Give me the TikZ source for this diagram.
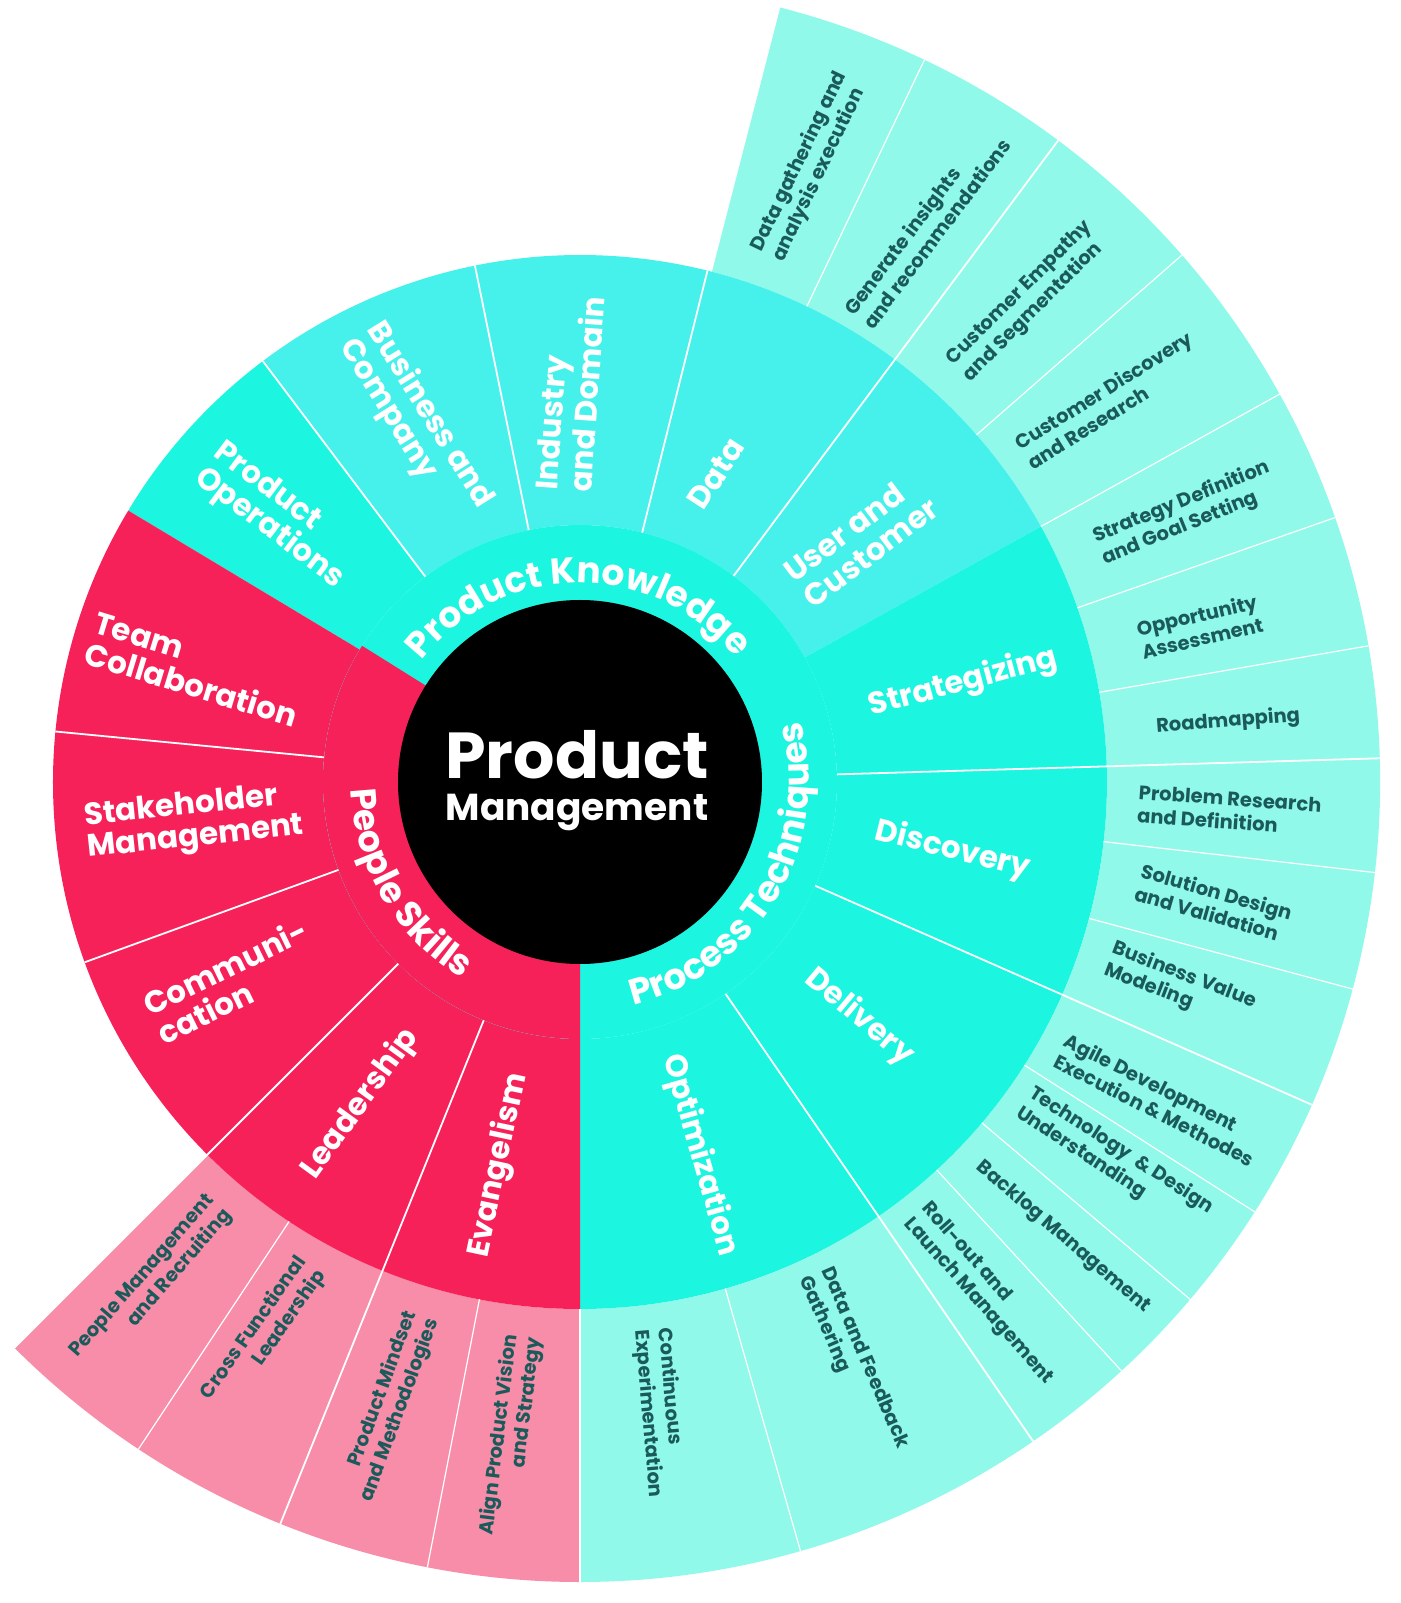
\documentclass[tikz,border=0pt]{standalone}
\usepackage{fontspec}
\setmainfont{Poppins}
\usetikzlibrary{decorations.text}

\definecolor{pmred}{RGB}{247,33,90}
\definecolor{pmpink}{RGB}{247,141,168}
\definecolor{pmcyan}{RGB}{28,245,224}
\definecolor{pmcyanlight}{RGB}{70,241,235}
\definecolor{pmleaf}{RGB}{144,249,234}
\definecolor{pmtext}{RGB}{26,90,90}

\tikzset{
	ringsep/.style={white, line width=1.8pt},
	leafsep/.style={white, line width=1.2pt},
	catlabel/.style={white, font=\bfseries\fontsize{31}{32}\selectfont,
		align=left, inner sep=0pt},
	leaflabel/.style={pmtext, font=\bfseries\fontsize{19.5}{23.5}\selectfont,
		align=left, inner sep=0pt},
	redleaflabel/.style={leaflabel, align=right}
}

\begin{document}
\begin{tikzpicture}
		% Fixing the page to the size of the reference
		\useasboundingbox (-580pt,-821pt) rectangle (820pt,782pt);

		% Outer ring of the leaves (pink under People Skills, cyan for the rest)
		\fill[pmpink] (225:527pt) arc[start angle=225, end angle=270, radius=527pt]
			-- (270:800pt) arc[start angle=270, end angle=225, radius=800pt] -- cycle;
		\fill[pmleaf] (-90:527pt) arc[start angle=-90, end angle=75.5, radius=527pt]
			-- (75.5:800pt) arc[start angle=75.5, end angle=-90, radius=800pt] -- cycle;

		% Middle ring: one sector for every subject
		\foreach \from/\to/\col in {149/127/pmcyan, 127/101.5/pmcyanlight,
				101.5/76/pmcyanlight, 76/53.3/pmcyanlight, 53.3/29/pmcyanlight,
				29/1.7/pmcyan, 1.7/-23.8/pmcyan, -23.8/-55.5/pmcyan,
				-55.5/-90/pmcyan, 149/270/pmred}
			\fill[\col] (\from:257pt) arc[start angle=\from, end angle=\to, radius=257pt]
				-- (\to:527pt) arc[start angle=\to, end angle=\from, radius=527pt] -- cycle;

		% Inner ring with the three groups
		\fill[pmcyan] (0,0) circle[radius=257pt];
		\fill[pmred] (0,0) -- (148:257pt) arc[start angle=148, end angle=270, radius=257pt]
			-- cycle;
		\fill[black] (0,0) coordinate (hub) circle[radius=182pt];

		% White lines between the sectors
		\foreach \a in {127, 101.5, 76, 174.5, 200}
			\draw[ringsep] (\a:257pt) -- (\a:527pt);
		\foreach \a in {53.3, 1.7, -23.8, -55.5, 225, 248}
			\draw[ringsep] (\a:257pt) -- (\a:800pt);
		\foreach \a in {64.5, 41.2, 29, 19.3, 9.8, -6.5, -15, -32.5, -40.3, -47.4,
				-74, 236.5, 259, 270}
			\draw[leafsep] (\a:527pt) -- (\a:800pt);

		% Group names bent along the inner ring
		\path[decorate, decoration={text along path, text align=center,
				text color=white,
				text={|\bfseries\fontsize{36}{36}\selectfont|Product Knowledge}}]
			(172:199pt) arc[start angle=172, end angle=9, radius=199pt];
		\path[decorate, decoration={text along path, text align=center,
				text color=white,
				text={|\bfseries\fontsize{36}{36}\selectfont|People Skills}}]
			(151:229pt) arc[start angle=151, end angle=270, radius=229pt];
		\path[decorate, decoration={text along path, text align=center,
				text color=white,
				text={|\bfseries\fontsize{36}{36}\selectfont|Process Techniques}}]
			(270:229pt) arc[start angle=270, end angle=389, radius=229pt];

		% Title in the middle
		\node[white, font=\bfseries\fontsize{65}{65}\selectfont, anchor=base]
			(title) at (-3pt,3pt) {Product};
		\node[white, font=\bfseries\fontsize{37.5}{38}\selectfont, anchor=base]
			(subtitle) at (-3pt,-39pt) {Management};

		% Subjects of the middle ring
		\node[catlabel, rotate=-37] (prodops) at (138.6:402pt) {Product\\Operations};
		\node[catlabel, rotate=-58] (business) at (114.6:394pt) {Business and\\Company};
		\node[catlabel, rotate=86] (industry) at (91.5:389pt) {Industry\\and Domain};
		\node[catlabel, rotate=57] (data) at (66.2:337pt) {Data};
		\node[catlabel, rotate=37] (user) at (40.8:371pt) {User and\\Customer};
		\node[catlabel, rotate=15] (strategizing) at (14.5:396pt) {Strategizing};
		\node[catlabel, rotate=-14] (discovery) at (-10.4:379pt) {Discovery};
		\node[catlabel, rotate=-40] (delivery) at (-40.1:365pt) {Delivery};
		\node[catlabel, rotate=-74] (optimization) at (-72.2:392pt) {Optimization};
		\node[catlabel, rotate=-17] (team) at (163.7:400pt) {Team\\Collaboration};
		\node[catlabel, rotate=6] (stakeholder) at (186:388pt) {Stakeholder\\Management};
		\node[catlabel, rotate=26] (communication) at (209.8:401pt) {Communi-\\cation};
		\node[catlabel, rotate=54] (leadership) at (235.7:390pt) {Leadership};
		\node[catlabel, rotate=78] (evangelism) at (258:392pt) {Evangelism};

		% Leaves of the outer ring
		\node[leaflabel, rotate=64.5] (gathering) at (69.5:657pt)
			{Data gathering and\\analysis execution};
		\node[leaflabel, rotate=53] (insights) at (58:655pt)
			{Generate insights\\and recommendations};
		\node[leaflabel, rotate=45] (empathy) at (47:657pt)
			{Customer Empathy\\and Segmentation};
		\node[leaflabel, rotate=32] (custdiscovery) at (35.8:653pt)
			{Customer Discovery\\and Research};
		\node[leaflabel, rotate=22] (strategydef) at (23.9:663pt)
			{Strategy Definition\\and Goal Setting};
		\node[leaflabel, rotate=13] (opportunity) at (14.1:639pt)
			{Opportunity\\Assessment};
		\node[leaflabel, rotate=4.5] (roadmapping) at (5.3:651pt) {Roadmapping};
		\node[leaflabel, rotate=-4] (problem) at (-2.5:650pt)
			{Problem Research\\and Definition};
		\node[leaflabel, rotate=-16] (solution) at (-10.8:645pt)
			{Solution Design\\and Validation};
		\node[leaflabel, rotate=-21] (value) at (-18.8:634pt)
			{Business Value\\Modeling};
		\node[leaflabel, rotate=-27] (agile) at (-28.7:661pt)
			{Agile Development\\Execution \& Methodes};
		\node[leaflabel, rotate=-33] (technology) at (-35.3:655pt)
			{Technology\ \ \& Design\\Understanding};
		\node[leaflabel, rotate=-40.5] (backlog) at (-43.3:664pt) {Backlog Management};
		\node[leaflabel, rotate=-48.5] (rollout) at (-51.5:654pt)
			{Roll-out and\\Launch Management};
		\node[leaflabel, rotate=-66.7] (feedback) at (-64.8:642pt)
			{Data and Feedback\\Gathering};
		\node[leaflabel, rotate=-85] (experiment) at (-82.8:636pt)
			{Continuous\\Experimentation};
		\node[redleaflabel, rotate=49] (recruiting) at (229.5:660pt)
			{People Management\\and Recruiting};
		\node[redleaflabel, rotate=55] (crossfunc) at (240.2:637pt)
			{Cross Functional\\Leadership};
		\node[redleaflabel, rotate=70] (mindset) at (253:653pt)
			{Product Mindset\\and Methodologies};
		\node[redleaflabel, rotate=83] (vision) at (264:658pt)
			{Align Product Vision\\and Strategy};
	\end{tikzpicture}
\end{document}
